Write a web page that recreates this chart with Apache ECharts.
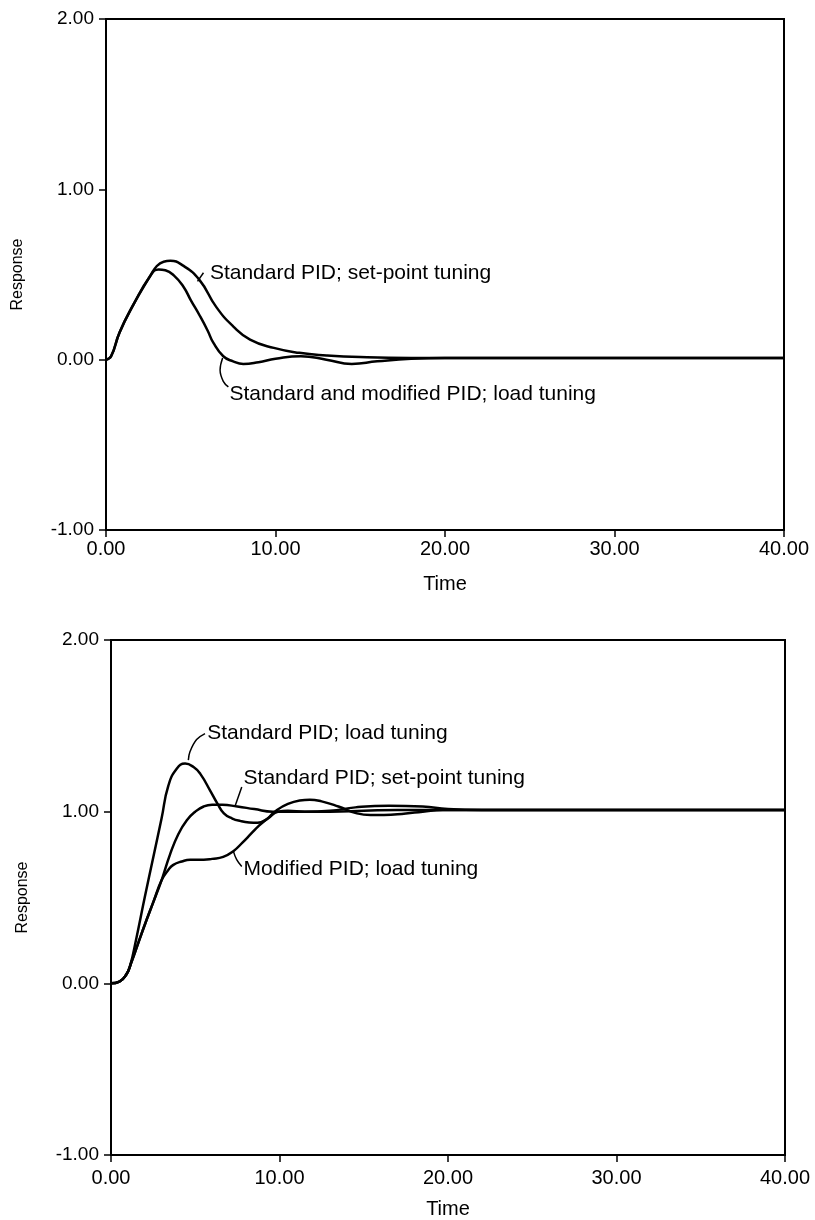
<!DOCTYPE html>
<html>
<head>
<meta charset="utf-8">
<script src="https://cdn.jsdelivr.net/npm/echarts@6/dist/echarts.min.js"></script>
<style>
  html, body { margin: 0; padding: 0; background: #fff; }
  #chart { width: 815px; height: 1220px; }
</style>
</head>
<body>
<div id="chart"></div>
<script>
// Upper panel: load disturbance response
const topSetT = [0, 0.3, 0.8, 1.6, 2.6, 3.0, 3.4, 3.8, 4.5, 5.5, 6.5, 7.5, 8.5, 9.9, 11.4, 13, 15, 18, 20, 25, 30, 40];
const topSetV = [0, 0.02, 0.16, 0.32, 0.49, 0.55, 0.575, 0.58, 0.555, 0.47, 0.31, 0.196, 0.118, 0.069, 0.04, 0.025, 0.015, 0.01, 0.01, 0.01, 0.01, 0.01];

const topLoadT = [0, 0.3, 0.8, 1.6, 2.6, 3.1, 3.5, 4.0, 4.56, 5.0, 5.55, 6.0, 6.33, 6.92, 7.5, 8.1, 9, 10, 11.5, 13, 14.5, 16, 18, 20, 25, 30, 40];
const topLoadV = [0, 0.02, 0.16, 0.32, 0.49, 0.53, 0.525, 0.495, 0.43, 0.35, 0.255, 0.17, 0.1, 0.02, -0.01, -0.025, -0.015, 0.005, 0.02, 0.0, -0.025, -0.01, 0.005, 0.01, 0.01, 0.01, 0.01];

// Lower panel: set-point response
const botLoadT = [0, 0.5, 0.9, 1.13, 1.5, 2.0, 2.5, 3.0, 3.4, 3.9, 4.4, 4.9, 5.3, 5.9, 6.3, 6.7, 7.2, 7.7, 8.2, 8.7, 9.3, 9.9, 10.5, 11.5, 13, 14.5, 16.5, 18.5, 20, 22, 25, 30, 40];
const botLoadV = [0, 0.01, 0.05, 0.10, 0.26, 0.50, 0.73, 0.96, 1.15, 1.25, 1.28, 1.26, 1.22, 1.12, 1.05, 0.99, 0.96, 0.945, 0.937, 0.935, 0.96, 1.0, 1.005, 1.0, 1.005, 1.025, 1.035, 1.03, 1.015, 1.01, 1.01, 1.01, 1.01];

const botSetT = [0, 0.5, 0.9, 1.2, 1.6, 2.0, 2.5, 3.0, 3.5, 4.0, 4.5, 5.0, 5.5, 6.0, 6.6, 7.5, 8.5, 9.6, 11, 13, 15, 17, 20, 25, 30, 40];
const botSetV = [0, 0.01, 0.05, 0.12, 0.23, 0.34, 0.47, 0.6, 0.75, 0.87, 0.95, 1.0, 1.03, 1.04, 1.04, 1.03, 1.015, 1.0, 1.0, 1.0, 1.005, 1.01, 1.01, 1.01, 1.01, 1.01];

const botModT = [0, 0.5, 0.9, 1.2, 1.6, 2.0, 2.5, 3.0, 3.4, 3.7, 4.2, 4.7, 5.5, 6.0, 6.66, 7.26, 7.8, 8.3, 8.8, 9.4, 9.85, 10.5, 11.2, 11.8, 12.5, 13.5, 14.6, 15.4, 16.2, 17.5, 18.5, 19.7, 22, 25, 30, 40];
const botModV = [0, 0.01, 0.05, 0.12, 0.23, 0.34, 0.47, 0.6, 0.66, 0.69, 0.71, 0.72, 0.72, 0.725, 0.737, 0.77, 0.82, 0.87, 0.92, 0.97, 1.01, 1.045, 1.065, 1.07, 1.06, 1.03, 0.99, 0.98, 0.98, 0.99, 1.0, 1.01, 1.01, 1.01, 1.01, 1.01];

// curve labels and their leader lines (data coordinates)
const topLabels = [
  { name: 'Standard PID; set-point tuning', value: [6.1, 0.51] },
  { name: 'Standard and modified PID; load tuning', value: [7.25, -0.205] }
];
const topLeaders = [
  [[5.4, 0.46], [5.75, 0.51]],
  [[6.88, 0.01], [6.73, -0.06], [6.92, -0.127], [7.22, -0.16]]
];
const botLabels = [
  { name: 'Standard PID; load tuning', value: [5.68, 1.455] },
  { name: 'Standard PID; set-point tuning', value: [7.84, 1.196] },
  { name: 'Modified PID; load tuning', value: [7.84, 0.663] }
];
const botLeaders = [
  [[4.59, 1.30], [4.69, 1.35], [5.08, 1.42], [5.58, 1.455]],
  [[7.36, 1.031], [7.76, 1.144]],
  [[7.26, 0.77], [7.46, 0.72], [7.76, 0.68]]
];

const FONT = 'Liberation Sans';
const zip = (t, v) => t.map((x, i) => [x, v[i]]);

function xAxisFor(idx, margin) {
  return {
    gridIndex: idx, type: 'value', min: 0, max: 40, interval: 10,
    name: 'Time', nameLocation: 'middle', nameGap: 44,
    nameTextStyle: { fontSize: 20, color: '#000', fontFamily: FONT },
    axisLine: { onZero: false, lineStyle: { color: '#000', width: 2 } },
    axisTick: { length: 7, lineStyle: { color: '#000', width: 1.5 } },
    axisLabel: { fontSize: 20, color: '#000', fontFamily: FONT, margin: margin,
                 formatter: v => v.toFixed(2) },
    splitLine: { show: false }
  };
}
function yAxisFor(idx) {
  return {
    gridIndex: idx, type: 'value', min: -1, max: 2, interval: 1,
    name: 'Response', nameLocation: 'middle', nameGap: 80,
    nameTextStyle: { fontSize: 16, color: '#000', fontFamily: FONT },
    axisLine: { onZero: false, lineStyle: { color: '#000', width: 2 } },
    axisTick: { length: 7, lineStyle: { color: '#000', width: 1.5 } },
    axisLabel: { fontSize: 19, color: '#000', fontFamily: FONT, margin: 12,
                 formatter: v => v.toFixed(2) },
    splitLine: { show: false }
  };
}
function curve(idx, data) {
  return {
    type: 'line', xAxisIndex: idx, yAxisIndex: idx, data: data,
    showSymbol: false, smooth: 0.5,
    lineStyle: { color: '#000', width: 2.5 }, silent: true
  };
}
function leader(idx, data) {
  return {
    type: 'line', xAxisIndex: idx, yAxisIndex: idx, data: data,
    showSymbol: false, smooth: 0.4,
    lineStyle: { color: '#000', width: 1.5 }, silent: true
  };
}
function labels(idx, data) {
  return {
    type: 'scatter', xAxisIndex: idx, yAxisIndex: idx, data: data,
    symbolSize: 1, itemStyle: { color: '#fff', opacity: 0 }, silent: true,
    label: { show: true, position: 'right', distance: 0, formatter: '{b}',
             fontSize: 21, color: '#000', opacity: 1, textBorderWidth: 0,
             fontFamily: FONT, verticalAlign: 'middle' }
  };
}

const chart = echarts.init(document.getElementById('chart'));
chart.setOption({
  backgroundColor: '#fff',
  animation: false,
  grid: [
    { left: 106, top: 19, width: 678, height: 511, show: true, borderColor: '#000', borderWidth: 2 },
    { left: 111, top: 640, width: 674, height: 517, show: true, borderColor: '#000', borderWidth: 2 }
  ],
  xAxis: [xAxisFor(0, 9), xAxisFor(1, 13)],
  yAxis: [yAxisFor(0), yAxisFor(1)],
  series: [
    curve(0, zip(topSetT, topSetV)),
    curve(0, zip(topLoadT, topLoadV)),
    curve(1, zip(botLoadT, botLoadV)),
    curve(1, zip(botSetT, botSetV)),
    curve(1, zip(botModT, botModV)),
    ...topLeaders.map(d => leader(0, d)),
    ...botLeaders.map(d => leader(1, d)),
    labels(0, topLabels),
    labels(1, botLabels)
  ]
});
</script>
</body>
</html>
